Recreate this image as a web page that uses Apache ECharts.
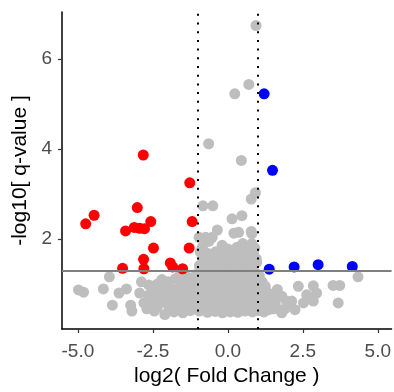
<!DOCTYPE html>
<html>
<head>
<meta charset="utf-8">
<script src="https://cdn.jsdelivr.net/npm/echarts@6/dist/echarts.min.js"></script>
<style>
  html, body { margin: 0; padding: 0; background: #fff; }
  #chart { width: 394px; height: 392px; }
</style>
</head>
<body>
<div id="chart"></div>
<script>
// log2 fold change, -log10 q-value
const downGenes = [
  [-4.74, 2.34], [-4.46, 2.53], [-3.02, 2.70], [-3.41, 2.18], [-3.12, 2.26],
  [-2.94, 2.24], [-2.78, 2.23], [-2.57, 2.39], [-1.19, 2.39], [-2.48, 1.80],
  [-1.29, 1.80], [-2.81, 1.55], [-2.80, 1.34], [-3.51, 1.35], [-1.92, 1.47],
  [-1.84, 1.38], [-1.51, 1.34], [-2.82, 3.87], [-1.27, 3.25]
];
const upGenes = [
  [1.21, 5.23], [1.49, 3.53], [1.38, 1.33], [2.21, 1.38], [3.01, 1.43], [4.15, 1.39]
];
const otherGenes = [
  // sparse / high
  [0.94, 6.75], [0.70, 5.44], [0.23, 5.23], [-0.64, 4.12], [0.45, 3.75], [0.92, 3.03],
  [0.78, 2.89], [-0.83, 2.74], [-0.50, 2.74], [0.14, 2.45], [0.47, 2.52], [0.78, 2.17],
  [-0.35, 2.20], [-0.74, 2.04], [-0.52, 2.04], [0.20, 2.13], [0.36, 2.15], [-0.96, 2.04],
  [-0.85, 1.82], [-0.19, 1.86], [0.31, 1.82], [0.64, 1.71], [0.80, 2.12], [0.80, 1.90],
  [-0.63, 1.95], [0.00, 1.78], [0.50, 1.90], [0.90, 1.80],
  // far left
  [-4.98, 0.87], [-4.81, 0.82], [-3.95, 1.16], [-4.15, 0.89], [-3.85, 0.53], [-3.63, 0.80],
  [-3.38, 0.89], [-3.24, 0.53], [-3.20, 0.40], [-2.88, 1.05], [-2.64, 0.98], [-2.94, 0.80],
  // left band
  [-2.10, 0.32], [-2.45, 0.40], [-1.80, 0.38], [-1.50, 0.36], [-1.25, 0.41], [-2.70, 0.45],
  [-2.80, 0.58], [-2.55, 0.55], [-2.28, 0.60], [-2.00, 0.54], [-1.72, 0.58], [-1.45, 0.55], [-1.18, 0.58],
  [-2.65, 0.75], [-2.38, 0.72], [-2.12, 0.76], [-1.86, 0.71], [-1.60, 0.75], [-1.32, 0.72], [-1.10, 0.76],
  [-2.50, 0.92], [-2.22, 0.88], [-1.95, 0.93], [-1.68, 0.89], [-1.42, 0.93], [-1.18, 0.90],
  [-2.00, 1.05], [-1.75, 1.12], [-1.50, 1.05], [-1.36, 1.16], [-1.15, 1.10], [-1.05, 1.22],
  [-1.60, 1.20], [-2.20, 1.10],
  [-2.62, 0.64], [-2.35, 0.48], [-2.20, 0.66], [-1.95, 0.44], [-1.90, 0.82], [-1.65, 0.47],
  [-1.55, 0.85], [-1.38, 0.62], [-1.30, 0.45], [-1.25, 0.98], [-2.35, 1.00], [-1.08, 0.48], [-1.10, 1.00],
  // centre
  [-0.95, 0.40], [-0.68, 0.37], [-0.42, 0.39], [-0.18, 0.36], [0.08, 0.38], [0.33, 0.37], [0.57, 0.40], [0.82, 0.38], [1.00, 0.41],
  [-0.82, 0.46], [-0.55, 0.47], [-0.30, 0.45], [-0.04, 0.47], [0.21, 0.46], [0.46, 0.47], [0.71, 0.45], [0.90, 0.47],
  [-0.90, 0.56], [-0.62, 0.53], [-0.38, 0.57], [-0.10, 0.54], [0.14, 0.56], [0.40, 0.53], [0.66, 0.57], [0.92, 0.55],
  [-0.80, 0.64], [-0.50, 0.63], [-0.25, 0.65], [0.00, 0.63], [0.25, 0.64], [0.53, 0.63], [0.80, 0.65],
  [-0.97, 0.73], [-0.72, 0.70], [-0.47, 0.74], [-0.22, 0.71], [0.03, 0.73], [0.27, 0.70], [0.52, 0.74], [0.76, 0.71], [0.98, 0.74],
  [-0.84, 0.81], [-0.56, 0.80], [-0.28, 0.82], [-0.02, 0.80], [0.23, 0.81], [0.57, 0.80], [0.85, 0.82],
  [-0.88, 0.90], [-0.60, 0.88], [-0.34, 0.92], [-0.08, 0.89], [0.18, 0.91], [0.44, 0.88], [0.70, 0.92], [0.94, 0.90],
  [-0.78, 0.98], [-0.52, 0.97], [-0.26, 0.99], [0.00, 0.97], [0.25, 0.99], [0.50, 0.97], [0.76, 0.99],
  [-0.96, 1.07], [-0.70, 1.05], [-0.45, 1.09], [-0.20, 1.06], [0.06, 1.08], [0.31, 1.05], [0.56, 1.09], [0.82, 1.06],
  [-0.82, 1.16], [-0.57, 1.15], [-0.32, 1.17], [-0.06, 1.15], [0.19, 1.16], [0.44, 1.14], [0.70, 1.17], [0.95, 1.15],
  [-0.86, 1.25], [-0.60, 1.22], [-0.33, 1.26], [-0.07, 1.23], [0.19, 1.25], [0.45, 1.22], [0.70, 1.26], [0.93, 1.24],
  [-0.74, 1.32], [-0.47, 1.31], [-0.20, 1.33], [0.06, 1.31], [0.32, 1.32], [0.58, 1.31], [0.82, 1.33],
  [-0.95, 1.41], [-0.70, 1.39], [-0.44, 1.42], [-0.18, 1.39], [0.08, 1.41], [0.33, 1.38], [0.58, 1.42], [0.85, 1.40],
  [-0.84, 1.48], [-0.57, 1.47], [-0.31, 1.49], [-0.05, 1.47], [0.20, 1.48], [0.46, 1.47], [0.70, 1.49], [0.96, 1.48],
  [-0.82, 1.57], [-0.55, 1.54], [-0.28, 1.58], [-0.02, 1.55], [0.24, 1.57], [0.50, 1.54], [0.74, 1.58], [0.95, 1.56],
  [-0.78, 1.63], [-0.50, 1.62], [-0.22, 1.64], [0.05, 1.62], [0.33, 1.63], [0.58, 1.62], [0.84, 1.64],
  [-0.92, 1.71], [-0.66, 1.68], [-0.40, 1.72], [-0.12, 1.69], [0.14, 1.71], [0.40, 1.68], [0.62, 1.72], [0.86, 1.69],
  // right band
  [1.05, 1.18], [1.14, 1.05], [1.14, 0.87], [1.20, 0.70], [1.10, 0.55], [1.35, 0.80], [1.30, 0.60],
  [1.36, 0.43], [1.58, 0.58], [1.55, 0.75], [1.50, 0.45], [1.80, 0.73], [1.80, 0.36], [2.02, 0.51],
  [2.13, 0.62], [2.24, 0.43], [1.65, 0.88], [1.95, 0.62],
  [1.25, 0.95], [1.45, 0.62], [1.65, 0.45], [1.05, 0.65], [1.20, 0.38], [1.90, 0.45],
  // far right
  [2.35, 0.95], [2.85, 0.96], [3.51, 0.97], [3.73, 0.97], [3.68, 0.58], [2.96, 0.80],
  [2.85, 0.62], [2.63, 0.76], [2.52, 0.58], [4.34, 1.16]
];
const xTicks = [-5, -2.5, 0, 2.5, 5];
const yTicks = [2, 4, 6];
const fcCut = [-1, 1];
const qCut = 1.301;

const chart = echarts.init(document.getElementById('chart'));
const font = 'Liberation Sans, Arial, sans-serif';
chart.setOption({
  animation: false,
  grid: {left: 62, right: 0, top: 12, bottom: 59},
  xAxis: {
    type: 'value',
    min: -5.53,
    max: 5.46,
    name: 'log2( Fold Change )',
    nameLocation: 'middle',
    nameGap: 37,
    nameTextStyle: {fontSize: 21, color: '#000', fontFamily: font},
    splitLine: {show: false},
    axisLine: {onZero: false, lineStyle: {color: '#000', width: 1.5}},
    axisTick: {length: 4, customValues: xTicks, lineStyle: {color: '#333', width: 1.2}},
    axisLabel: {
      customValues: xTicks,
      formatter: v => v.toFixed(1),
      fontSize: 19, color: '#4d4d4d', fontFamily: font, margin: 13
    }
  },
  yAxis: {
    type: 'value',
    min: 0,
    max: 7.05,
    name: '-log10[ q-value ]',
    nameLocation: 'middle',
    nameGap: 30,
    nameTextStyle: {fontSize: 21, color: '#000', fontFamily: font},
    splitLine: {show: false},
    axisLine: {onZero: false, lineStyle: {color: '#000', width: 1.5}},
    axisTick: {length: 4, customValues: yTicks, lineStyle: {color: '#333', width: 1.2}},
    axisLabel: {
      customValues: yTicks,
      fontSize: 19, color: '#4d4d4d', fontFamily: font, margin: 10
    }
  },
  series: [
    {
      type: 'scatter', data: otherGenes, symbolSize: 11,
      itemStyle: {color: '#bebebe', opacity: 1}, z: 2
    },
    {
      type: 'scatter', data: downGenes, symbolSize: 11,
      itemStyle: {color: '#ff0000', opacity: 1}, z: 3
    },
    {
      type: 'scatter', data: upGenes, symbolSize: 11,
      itemStyle: {color: '#0000ff', opacity: 1}, z: 3
    },
    {
      type: 'scatter', data: [], z: 5,
      markLine: {
        silent: true, symbol: 'none', label: {show: false},
        data: [
          {xAxis: fcCut[0], lineStyle: {color: '#000', width: 2, type: [2, 6.7]}},
          {xAxis: fcCut[1], lineStyle: {color: '#000', width: 2, type: [2, 6.7]}},
          {yAxis: qCut, lineStyle: {color: '#7f7f7f', width: 2, type: 'solid'}}
        ]
      }
    }
  ]
});
</script>
</body>
</html>
